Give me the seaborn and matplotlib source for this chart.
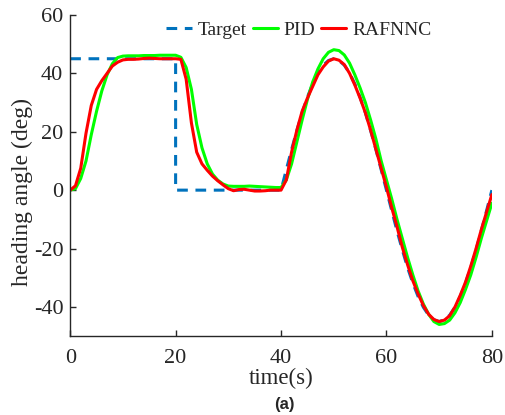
import numpy as np
import pandas as pd
import seaborn as sns
import matplotlib.pyplot as plt

# heading angle tracking, (a) panel

time = np.arange(0, 81, 1)

target_time = [0, 20, 20, 40, 41, 42, 43, 44, 45, 46, 47, 48, 49, 50,
               51, 52, 53, 54, 55, 56, 57, 58, 59, 60,
               61, 62, 63, 64, 65, 66, 67, 68, 69, 70,
               71, 72, 73, 74, 75, 76, 77, 78, 79, 80]
target_vals = [45, 45, 0, 0, 7.0, 13.9, 20.4, 26.5, 31.8, 36.4, 40.1, 42.8, 44.4, 45,
               44.4, 42.8, 40.1, 36.4, 31.8, 26.5, 20.4, 13.9, 7.0, 0,
               -7.0, -13.9, -20.4, -26.5, -31.8, -36.4, -40.1, -42.8, -44.4, -45,
               -44.4, -42.8, -40.1, -36.4, -31.8, -26.5, -20.4, -13.9, -7.0, 0]

pid_vals = [0, 0.5, 4, 10, 19, 27, 34, 39.5, 43.3, 45.4,
            45.9, 46, 46, 46, 46.1, 46.1, 46.1, 46.2, 46.2, 46.2,
            46.2, 45.5, 42, 34.5, 22.5, 14.5, 9, 5.5, 3.4, 2.1,
            1.4, 1.3, 1.3, 1.3, 1.4, 1.3, 1.2, 1.1, 1.0, 0.9,
            0.9, 3.5, 9, 16.5, 24, 31, 37, 41.5, 45, 47.2,
            48.1, 47.8, 46.3, 43.5, 39.5, 35, 30, 24, 17.5, 10,
            3.5, -3, -10, -16.5, -23, -29, -34.5, -39, -42.5, -45,
            -46, -45.7, -44.5, -42, -38.5, -34, -29, -23, -16.5, -10.5,
            -4.5]

rafnnc_vals = [0, 1.5, 7.5, 19.5, 29, 34.5, 37.5, 40, 42.5, 43.8,
               44.6, 44.8, 44.8, 44.9, 45.1, 45.2, 45.1, 45, 45, 45,
               45, 44.8, 38, 23, 13, 9, 6.8, 4.8, 3.2, 1.8,
               0.5, -0.2, 0.2, 0.3, 0, -0.3, -0.3, -0.2, 0, 0,
               0, 3.5, 13, 20.5, 27, 31.5, 35.5, 39.5, 42.2, 44.2,
               45, 44.5, 43, 40, 36, 31.5, 26.5, 20.5, 14, 7.5,
               1, -6, -12.5, -19.5, -25.5, -31, -35.5, -39.5, -42.5, -44.3,
               -45, -44.5, -43, -40, -36, -31.5, -26, -20, -13.5, -7.5,
               -1.5]

sns.set_style("white", {"xtick.bottom": True, "ytick.left": True})
plt.rcParams['font.family'] = ['Liberation Serif', 'DejaVu Serif']
plt.rcParams['axes.unicode_minus'] = False

fig = plt.figure(figsize=(5.05, 4.15), dpi=100)
ax = fig.add_axes([0.139, 0.19, 0.835, 0.774])

sns.lineplot(x=target_time, y=target_vals, ax=ax, color='#0072BD', lw=2.2,
             linestyle='--', label='Target', sort=False, estimator=None)
ax.lines[-1].set_dashes((3.5, 2.5))
sns.lineplot(x=time, y=pid_vals, ax=ax, color='#00FF00', lw=2.2, label='PID')
sns.lineplot(x=time, y=rafnnc_vals, ax=ax, color='#FF0000', lw=2.2, label='RAFNNC')

ax.set_xlim(0, 80)
ax.set_ylim(-50, 60)
ax.set_xticks([0, 20, 40, 60, 80])
ax.set_yticks([-40, -20, 0, 20, 40, 60])
ax.tick_params(direction='in', length=4, width=1, labelsize=16, colors='#262626',
               bottom=True, left=True)
ax.tick_params(axis='x', pad=9)
ax.tick_params(axis='y', pad=5)
for s in ['top', 'right']:
    ax.spines[s].set_visible(False)
for s in ['left', 'bottom']:
    ax.spines[s].set_color('#262626')
    ax.spines[s].set_linewidth(1)

ax.set_xlabel('time(s)', fontsize=16.5, color='#262626', labelpad=0)
ax.set_ylabel('heading angle (deg)', fontsize=17, color='#262626')
ax.yaxis.set_label_coords(-0.088, 0.45)

leg = ax.legend(loc='center', bbox_to_anchor=(0.592, 0.928), bbox_transform=fig.transFigure,
                ncol=3, frameon=False, fontsize=14, handlelength=1.3,
                handletextpad=0.3, columnspacing=0.3)

fig.text(0.564, 0.025, '(a)', ha='center', va='center', fontsize=12,
         fontweight='bold', family='Liberation Sans')

fig.savefig('out.png', dpi=100)
